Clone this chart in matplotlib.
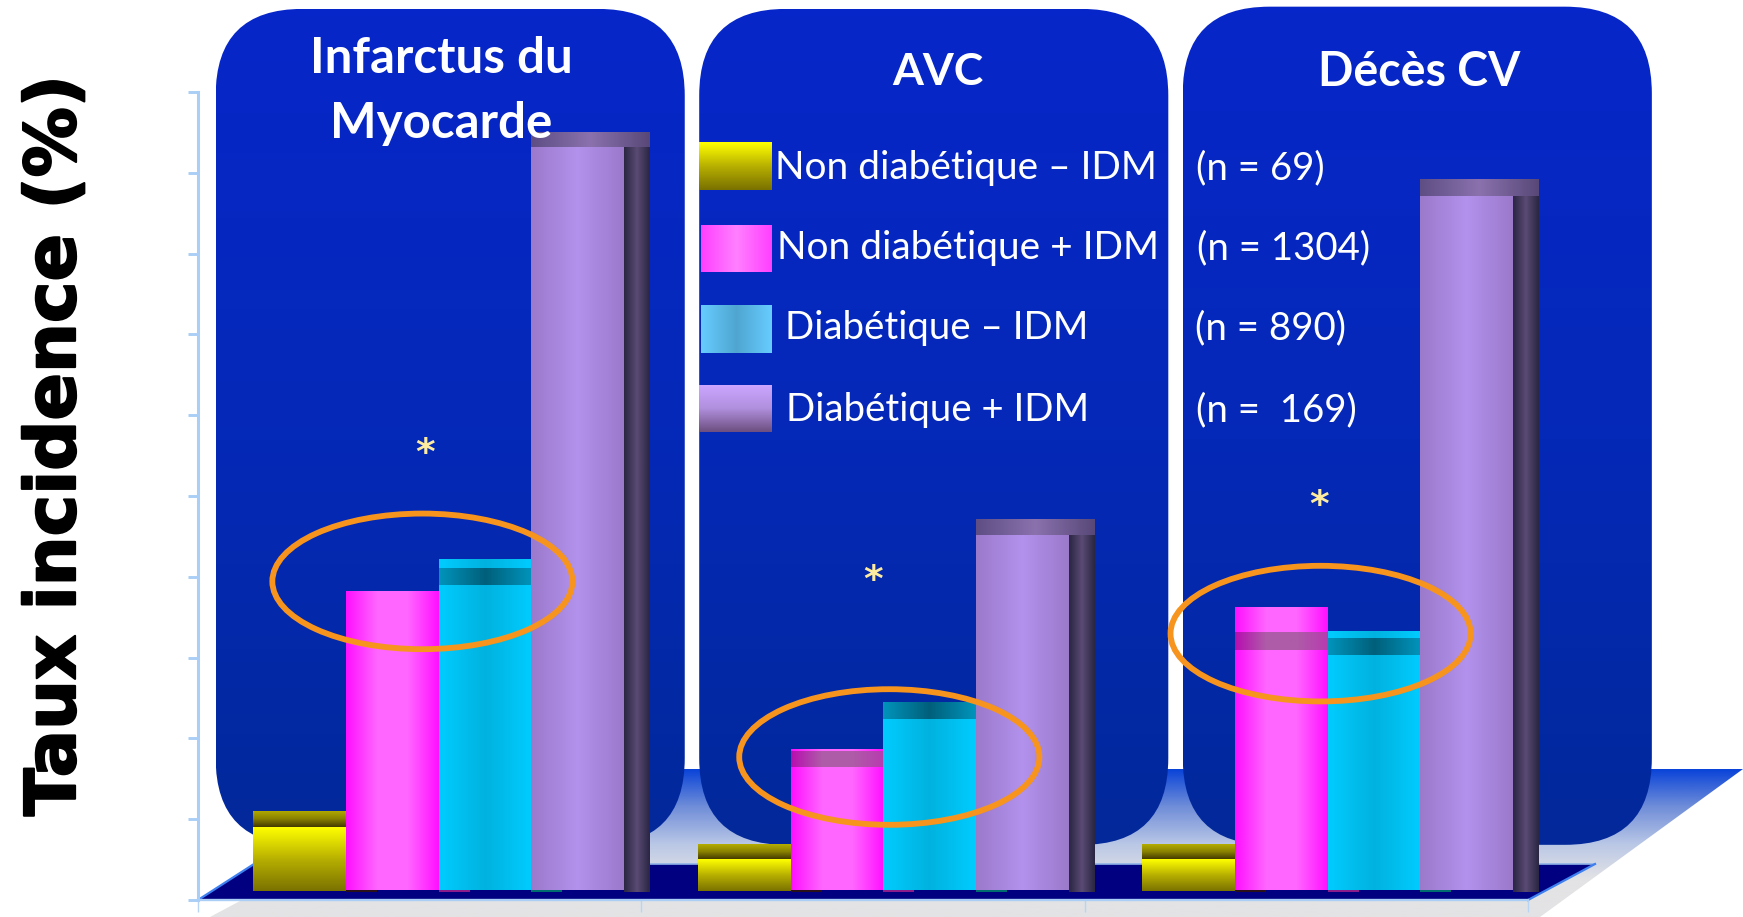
import matplotlib
matplotlib.use("Agg")
import matplotlib.pyplot as plt
import matplotlib.patheffects as pe
import numpy as np
from matplotlib.colors import LinearSegmentedColormap
from matplotlib.patches import Ellipse, FancyBboxPatch, Polygon

W, H = 1743, 917
S = W / 1568  # layout below is sketched on a 1568 wide grid

panel_titles = ["Infarctus du", "Myocarde", "AVC", "Décès CV"]
legend_labels = ["Non diabétique – IDM", "Non diabétique + IDM", "Diabétique – IDM", "Diabétique + IDM"]
legend_counts = ["(n = 69)", "(n = 1304)", "(n = 890)", "(n =  169)"]

# incidence per group: IM, stroke, CV death (front face of each bar)
non_diab_no_mi = [0.90, 0.51, 0.51]
non_diab_mi = [3.83, 1.65, 3.10]
diab_no_mi = [3.90, 2.24, 3.03]
diab_mi = [9.32, 4.52, 8.71]

# top of the rear face of each bar
non_diab_no_mi_back = [1.10, 0.69, 0.69]
non_diab_mi_back = [3.83, 1.85, 3.63]
diab_no_mi_back = [4.22, 2.45, 3.33]
diab_mi_back = [9.51, 4.72, 8.92]

y_ticks = np.arange(0, 11)
x_ticks = np.arange(0, 4)

BASE = 0.125
BAR_W = 0.209
SIDE_W = 0.058
GROUP_X = [0.125, 1.128, 2.13]


def cmap(*cols):
    return LinearSegmentedColormap.from_list("c", cols)


YELLOW = cmap("#FFFF00", "#B8B000", "#7A7200")
YELLOW_CAP = cmap("#B5AD00", "#8A8200", "#453B00")
MAGENTA = cmap("#FF10FF", "#FF66FF", "#FF66FF", "#FF10FF")
MAGENTA_CAP = cmap("#B80EB0", "#AE5CA8", "#AE5CA8", "#B83CB0")
CYAN = cmap("#00CCFF", "#00B2DF", "#00CCFF")
CYAN_CAP = cmap("#0094BC", "#005F7A", "#0094BC")
PURPLE = cmap("#9B7ACC", "#B292EC", "#9B7ACC")
PURPLE_CAP = cmap("#5E4E84", "#8B72AE", "#584878")
DARK = cmap("#2A2642", "#5A4B74", "#2A2642")


def fill(ax, patch, cm, vertical=False, z=3):
    # paint a gradient and clip it to the patch outline
    x0, y0, w, h = patch.get_bbox().bounds
    grad = np.linspace(0, 1, 128)
    grad = grad[:, None] if vertical else grad[None, :]
    im = ax.imshow(grad, cmap=cm, extent=(x0, x0 + w, y0, y0 + h), origin="upper" if vertical else "lower",
                   aspect="auto", zorder=z, interpolation="bilinear")
    im.set_clip_path(patch)


def gradient_bar(ax, x, bottom, top, width, cm, vertical=False, z=3):
    bar = ax.bar(x, top - bottom, width, bottom=bottom, align="edge", color="none", linewidth=0, zorder=z)[0]
    fill(ax, bar, cm, vertical, z)


fig = plt.figure(figsize=(W / 100, H / 100), dpi=100, facecolor="white")

# backdrop, in pixel coordinates
bg = fig.add_axes([0, 0, 1, 1], zorder=0)
bg.set_xlim(0, W)
bg.set_ylim(H, 0)
bg.axis("off")

wall = Polygon([(370, 769), (1743, 769), (1540, 917), (210, 917), (240, 901), (254, 864)], fc="none", ec="none", zorder=1)
bg.add_patch(wall)
wall_im = bg.imshow(np.linspace(0, 1, 128)[:, None], cmap=cmap("#0A44D8", "#6F8DD8", "#B8C6E6", "#E3E3E5", "#E3E3E5"),
                    extent=(210, 1743, 917, 769), aspect="auto", zorder=1)
wall_im.set_clip_path(wall)
bg.add_patch(Polygon([(198, 900), (254, 864), (1595, 864), (1528, 900)], fc="#000080", ec="none", zorder=1.5))
bg.plot([254, 1595], [864, 864], color="#8FB2E8", lw=1.2, zorder=1.6)
bg.plot([198, 254], [900, 864], color="#3F80F0", lw=1.6, zorder=1.6)
bg.plot([1528, 1595], [900, 864], color="#3F80F0", lw=1.6, zorder=1.6)

panel_cm = cmap("#0726C9", "#0529B8", "#02289A")
for x0, y0 in [(194, 8), (629, 8), (1064, 6)]:
    w, h, r = 422 * S, (760 - y0) * S, 78 * S
    box = FancyBboxPatch((x0 * S + r, y0 * S + r), w - 2 * r, h - 2 * r, boxstyle=f"round,pad={r},rounding_size={r}",
                         fc="none", ec="none", zorder=2)
    bg.add_patch(box)
    im = bg.imshow(np.linspace(0, 1, 128)[:, None], cmap=panel_cm, extent=(x0 * S, x0 * S + w, y0 * S + h, y0 * S),
                   aspect="auto", zorder=2)
    im.set_clip_path(box)
bg.set_xlim(0, W)
bg.set_ylim(H, 0)

# bars on a 0 to 10 axis
ax = fig.add_axes([198 / W, 1 - 900 / H, 1330 / W, 808 / H], zorder=1)
ax.patch.set_visible(False)

for i in range(3):
    x = GROUP_X[i]
    gradient_bar(ax, x, BASE - 0.01, non_diab_no_mi[i], BAR_W, YELLOW, True)
    gradient_bar(ax, x, non_diab_no_mi[i], non_diab_no_mi_back[i], BAR_W, YELLOW_CAP, True)

    x = GROUP_X[i] + BAR_W
    ax.bar(x, 0.02, 0.07, bottom=BASE - 0.02, align="edge", color="#2A1018", zorder=2.5)
    gradient_bar(ax, x, BASE, non_diab_mi[i], BAR_W, MAGENTA)
    if non_diab_mi_back[i] > non_diab_mi[i]:
        split = non_diab_mi[i] + 0.22
        gradient_bar(ax, x, non_diab_mi[i], split, BAR_W, MAGENTA_CAP)
        gradient_bar(ax, x, split, non_diab_mi_back[i], BAR_W, MAGENTA)

    x = GROUP_X[i] + 2 * BAR_W
    ax.bar(x, 0.03, 0.07, bottom=BASE - 0.03, align="edge", color="#8A1C8C", zorder=2.5)
    gradient_bar(ax, x, BASE, diab_no_mi[i], BAR_W, CYAN)
    split = diab_no_mi[i] + 0.21
    gradient_bar(ax, x, diab_no_mi[i], split, BAR_W, CYAN_CAP)
    gradient_bar(ax, x, split, diab_no_mi_back[i], BAR_W, CYAN)

    x = GROUP_X[i] + 3 * BAR_W
    ax.bar(x, 0.03, 0.07, bottom=BASE - 0.03, align="edge", color="#006C70", zorder=2.5)
    gradient_bar(ax, x, BASE, diab_mi[i], BAR_W, PURPLE)
    gradient_bar(ax, x, diab_mi[i], diab_mi_back[i], BAR_W + SIDE_W, PURPLE_CAP)
    gradient_bar(ax, x + BAR_W, BASE - 0.02, diab_mi[i], SIDE_W, DARK)

ax.set_xlim(0, 3)
ax.set_ylim(0, 10)
ax.set_xticks(x_ticks)
ax.set_yticks(y_ticks)
ax.tick_params(axis="y", labelleft=False, length=7, width=2.1, color="#AACEF5")
ax.tick_params(axis="x", labelbottom=False, length=8.5, width=1, color="#B8D4F4")
ax.spines[["top", "right"]].set_visible(False)
ax.spines[["left", "bottom"]].set_color("#AACEF5")
ax.spines["left"].set_linewidth(2.2)
ax.spines["bottom"].set_linewidth(1.7)

# overlay: circled groups, legend, titles
top = fig.add_axes([0, 0, 1, 1], zorder=2)
top.set_xlim(0, W)
top.set_ylim(H, 0)
top.axis("off")

for cx, cy in [(380, 523), (800, 681), (1188, 570)]:
    top.add_patch(Ellipse((cx * S, cy * S), 270 * S, 122 * S, fc="none", ec="#F7941D", lw=4.2))

for cx, cy in [(382, 408), (785, 523), (1187, 455)]:
    top.text(cx * S, cy * S, "*", color="#FDEBA0", fontsize=27, fontweight="bold", family="DejaVu Sans", ha="center", va="center")

title_pos = [(397, 53), (397, 111), (844, 65), (1277, 65)]
title_size = [35.5, 35.5, 32, 33.5]
for (cx, cy), t, fs in zip(title_pos, panel_titles, title_size):
    top.text(cx * S, cy * S, t, color="white", fontsize=fs, fontweight="bold", family="Lato", ha="center", va="center")

swatches = [((629, 128, 65, 43), YELLOW, True), ((631, 203, 63, 42), cmap("#FF40FF", "#FF80FF", "#FF40FF"), False),
            ((631, 275, 63, 43), cmap("#66CCFF", "#4FA5D0", "#66CCFF"), False),
            ((629, 347, 65, 42), cmap("#CCA6FF", "#B08FDD", "#6E4F80"), True)]
for (x0, y0, w, h), cm, vert in swatches:
    im = top.imshow(np.linspace(0, 1, 64)[:, None] if vert else np.linspace(0, 1, 64)[None, :], cmap=cm,
                    extent=(x0 * S, (x0 + w) * S, (y0 + h) * S, y0 * S), aspect="auto", zorder=3)
top.set_xlim(0, W)
top.set_ylim(H, 0)

for lab, cnt, lx, nx, y, fs in zip(legend_labels, legend_counts, [697, 699, 706, 707], [1076, 1077, 1075, 1076],
                                   [151, 223, 295, 369], [28, 28, 27.6, 27.6]):
    top.text(lx * S, y * S, lab, color="white", fontsize=fs, family="Lato", ha="left", va="center")
    top.text(nx * S, y * S, cnt, color="white", fontsize=27.7, family="Lato", ha="left", va="center")

fig.text(50 * S / W, 1 - 401 * S / H, "Taux incidence (%)", rotation=90, fontsize=50.5, fontweight="bold",
         family="DejaVu Sans", ha="center", va="center", color="black",
         path_effects=[pe.withStroke(linewidth=1.5, foreground="black")])

fig.savefig("out.png", dpi=100)
